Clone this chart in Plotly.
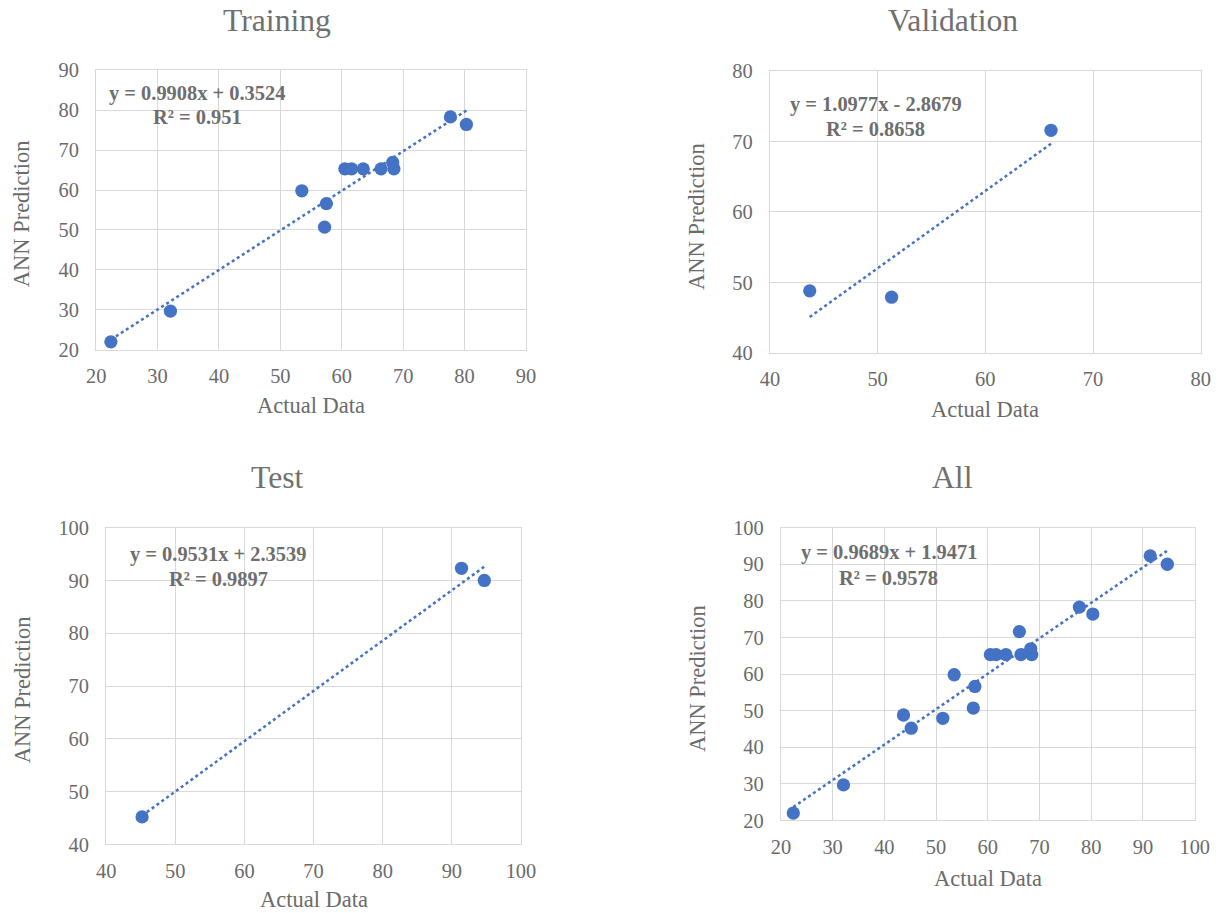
import plotly.graph_objects as go

# ---------------- data ----------------
train_actual = [22.4, 32.1, 53.5, 57.5, 57.2, 60.5, 61.6, 63.5, 66.4, 68.3, 68.5, 77.7, 80.3]
train_pred = [22.0, 29.7, 59.8, 56.6, 50.7, 65.3, 65.3, 65.3, 65.3, 66.9, 65.3, 78.3, 76.4]

valid_actual = [43.7, 51.3, 66.1]
valid_pred = [48.8, 47.9, 71.6]

test_actual = [45.2, 91.4, 94.7]
test_pred = [45.2, 92.3, 90.0]

all_actual = train_actual + valid_actual + test_actual
all_pred = train_pred + valid_pred + test_pred

panel_titles = ["Training", "Validation", "Test", "All"]
slopes = [0.9908, 1.0977, 0.9531, 0.9689]
intercepts = [0.3524, -2.8679, 2.3539, 1.9471]
eq_texts = ["y = 0.9908x + 0.3524", "y = 1.0977x - 2.8679", "y = 0.9531x + 2.3539", "y = 0.9689x + 1.9471"]
r2_texts = ["R² = 0.951", "R² = 0.8658", "R² = 0.9897", "R² = 0.9578"]
x_ranges = [[20, 90], [40, 80], [40, 100], [20, 100]]
y_ranges = [[20, 90], [40, 80], [40, 100], [20, 100]]

# ---- geometry: target positions in final picture pixels ----
SX, SY = 0.980, 0.977      # observed capture scale
OFF = 8                    # default body margin
DX, DY = -2, -2            # small observed shift correction
W, H = 1228, 918
areas = [(96, 526, 69, 349), (770, 1201, 70, 352), (106, 521, 527, 844), (781, 1195, 527, 820)]
title_pos = [(277, 19), (953, 19), (277, 477), (953, 477)]
eq_pos = [(197, 92, 116), (876, 103, 128), (218, 554, 578), (889, 552, 577)]
ytitle_x = [22, 697, 22, 697]
xtitle_y = [405, 409, 899, 878]

K = 1 / ((SX + SY) / 2)    # size compensation

FONT = "Liberation Serif, Times New Roman, serif"
BLUE = "#4472C4"
GRID = "#d9d9d9"
TXT = "#6b6b6b"

datasets = [(train_actual, train_pred), (valid_actual, valid_pred),
            (test_actual, test_pred), (all_actual, all_pred)]

fig = go.Figure()
layout = dict(
    width=W, height=H, margin=dict(l=0, r=0, t=0, b=0),
    paper_bgcolor="white", plot_bgcolor="white", showlegend=False,
    font=dict(family=FONT, color=TXT),
)
annotations = []

def px_x(p):
    return ((p + DX) / SX - OFF) / W

def px_y(p):
    return 1 - ((p + DY) / SY - OFF) / H

for i, (xs, ys) in enumerate(datasets):
    sfx = "" if i == 0 else str(i + 1)
    xa, ya = "x" + sfx, "y" + sfx
    l, r, t, b = areas[i]
    layout["xaxis" + sfx] = dict(
        domain=[px_x(l), px_x(r)], anchor=ya, range=x_ranges[i], dtick=10,
        showgrid=True, gridcolor=GRID, gridwidth=1, zeroline=False,
        showline=True, linecolor=GRID, linewidth=1, mirror=True,
        ticks="", tickfont=dict(family=FONT, size=20 * K, color=TXT),
        ticklabelstandoff=8,
    )
    layout["yaxis" + sfx] = dict(
        domain=[px_y(b), px_y(t)], anchor=xa, range=y_ranges[i], dtick=10,
        showgrid=True, gridcolor=GRID, gridwidth=1, zeroline=False,
        showline=True, linecolor=GRID, linewidth=1, mirror=True,
        ticks="", tickfont=dict(family=FONT, size=20 * K, color=TXT),
        ticklabelstandoff=12,
    )
    x0, x1 = min(xs), max(xs)
    fig.add_trace(go.Scatter(
        x=[x0, x1], y=[slopes[i] * x0 + intercepts[i], slopes[i] * x1 + intercepts[i]],
        mode="lines", line=dict(color=BLUE, width=2.5 * K, dash="dot"),
        xaxis=xa, yaxis=ya, hoverinfo="skip",
    ))
    fig.add_trace(go.Scatter(
        x=xs, y=ys, mode="markers",
        marker=dict(color=BLUE, size=13 * K, line=dict(width=0)),
        xaxis=xa, yaxis=ya,
    ))
    tx, ty = title_pos[i]
    annotations.append(dict(
        text=panel_titles[i], x=px_x(tx), y=px_y(ty), xref="paper", yref="paper",
        showarrow=False, xanchor="center", yanchor="middle",
        font=dict(family=FONT, size=31 * K, color="#707070"),
    ))
    ex, ey1, ey2 = eq_pos[i]
    annotations.append(dict(
        text="<b>" + eq_texts[i] + "</b>", x=px_x(ex), y=px_y(ey1), xref="paper", yref="paper",
        showarrow=False, xanchor="center", yanchor="middle",
        font=dict(family=FONT, size=20 * K, color="#6e6e6e"),
    ))
    annotations.append(dict(
        text="<b>" + r2_texts[i] + "</b>", x=px_x(ex), y=px_y(ey2), xref="paper", yref="paper",
        showarrow=False, xanchor="center", yanchor="middle",
        font=dict(family=FONT, size=20 * K, color="#6e6e6e"),
    ))
    annotations.append(dict(
        text="ANN Prediction", x=px_x(ytitle_x[i]), y=px_y((t + b) / 2 + 4),
        xref="paper", yref="paper", showarrow=False, textangle=-90,
        xanchor="center", yanchor="middle",
        font=dict(family=FONT, size=22 * K, color=TXT),
    ))
    annotations.append(dict(
        text="Actual Data", x=px_x((l + r) / 2), y=px_y(xtitle_y[i]),
        xref="paper", yref="paper", showarrow=False,
        xanchor="center", yanchor="middle",
        font=dict(family=FONT, size=22 * K, color=TXT),
    ))

layout["annotations"] = annotations
fig.update_layout(**layout)
fig.write_html("out.html")
